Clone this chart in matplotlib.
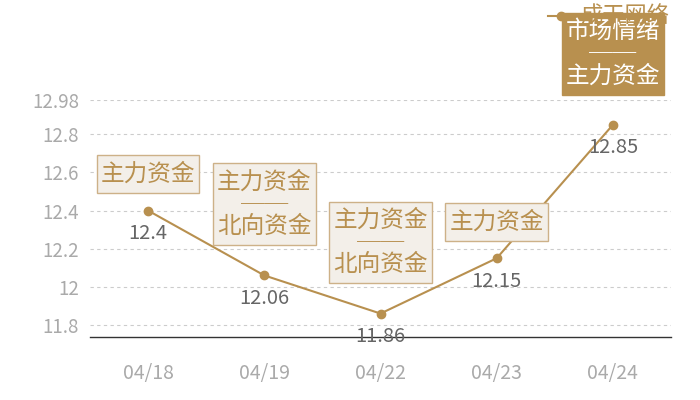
import matplotlib
matplotlib.use("Agg")
import matplotlib.pyplot as plt
from matplotlib.lines import Line2D
from matplotlib.path import Path

plt.rcParams['font.family'] = ['Noto Sans CJK SC', 'DejaVu Sans']

dates = ['04/18', '04/19', '04/22', '04/23', '04/24']
values = [12.4, 12.06, 11.86, 12.15, 12.85]
tags = ['主力资金', '主力资金\n──\n北向资金', '主力资金\n──\n北向资金', '主力资金', '市场情绪\n──\n主力资金']
highlight = [False, False, False, False, True]
yticks = [11.8, 12, 12.2, 12.4, 12.6, 12.8, 12.98]
ytick_labels = ['11.8', '12', '12.2', '12.4', '12.6', '12.8', '12.98']
series_name = '成干网络'

gold = '#b8904f'


def padded_box(x0, y0, width, height, mutation_size):
    hp = 0.17 * mutation_size
    vp = 0.31 * mutation_size
    return Path([(x0 - hp, y0 - vp), (x0 + width + hp, y0 - vp),
                 (x0 + width + hp, y0 + height + vp), (x0 - hp, y0 + height + vp),
                 (x0 - hp, y0 - vp)], closed=True)


fig = plt.figure(figsize=(7, 4), dpi=100)
ax = fig.add_axes([90/700, 63/400, 581/700, 237/400])

x = list(range(len(dates)))
ax.plot(x, values, color=gold, lw=1.5, marker='o', ms=6, zorder=3)
ax.set_xlim(-0.5, len(dates) - 0.5)
ax.set_ylim(11.737, 12.98)
ax.set_yticks(yticks)
ax.set_yticklabels(ytick_labels)
ax.set_xticks(x)
ax.set_xticklabels(dates)
ax.tick_params(axis='both', length=0, colors='#aaaaaa')
ax.tick_params(axis='x', pad=19, labelsize=14)
ax.tick_params(axis='y', pad=8, labelsize=13.5)
for s in ['top', 'right', 'left']:
    ax.spines[s].set_visible(False)
ax.spines['bottom'].set_color('#333333')
ax.spines['bottom'].set_linewidth(1)
ax.grid(axis='y', color='#cccccc', ls=(0, (3, 3)), lw=0.8)
ax.set_axisbelow(True)

for xi, v, t, h in zip(x, values, tags, highlight):
    ax.annotate(f'{v:g}', (xi, v), xytext=(0, -9), textcoords='offset points',
                ha='center', va='top', fontsize=14.5, color='#666666', zorder=4)
    multi = '\n' in t
    off = 27 if multi else 18
    if h:
        bbox = dict(boxstyle=padded_box, fc=gold, ec=gold, lw=1)
        tc = 'white'
    else:
        bbox = dict(boxstyle=padded_box, fc='#f3efe9', ec='#cdb188', lw=1)
        tc = gold
    ax.annotate(t, (xi, v), xytext=(0, off), textcoords='offset points',
                ha='center', va='bottom', fontsize=17, color=tc, bbox=bbox,
                linespacing=0.95, zorder=6, annotation_clip=False)

# legend
fig.add_artist(Line2D([548/700, 573/700], [1 - 16/400] * 2, color=gold, lw=1.5,
                      transform=fig.transFigure))
fig.add_artist(Line2D([560.5/700], [1 - 16/400], color=gold, marker='o', ms=6,
                      transform=fig.transFigure))
fig.text(580/700, 1 - 16/400, series_name, fontsize=16, color=gold, va='center', ha='left', zorder=1)

fig.savefig('out.png', dpi=100)
